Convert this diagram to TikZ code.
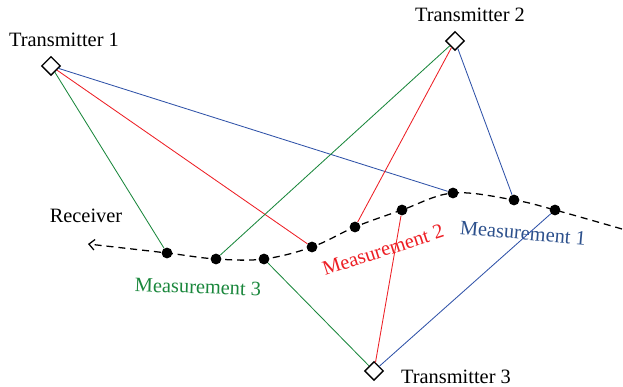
\documentclass[tikz,border=0pt]{standalone}
\usepackage{fontspec}
\setmainfont{Liberation Serif}
\usetikzlibrary{shapes.geometric,arrows.meta,backgrounds}

\definecolor{mblue}{RGB}{47,82,168}
\definecolor{mgreen}{RGB}{26,135,60}
\definecolor{mred}{RGB}{237,30,36}
\definecolor{lblue}{RGB}{44,80,140}

\begin{document}
\begin{tikzpicture}[font=\fontsize{14.5}{17}\selectfont]
	\useasboundingbox (0,0) rectangle (15.575,9.675);

	% Styles for transmitters, measurement points and rays
	\tikzstyle{tx}=[
	diamond,
	draw,
	fill=white,
	line width=0.9pt,
	inner sep=0pt,
	minimum size=0.47cm
	]
	\tikzstyle{pt}=[circle, fill=black, inner sep=0pt, minimum size=0.27cm]
	\tikzstyle{ray}=[line width=0.6pt]

	% --- Transmitters ---
	\node[tx] (T1) at (1.275, 8.025) {};
	\node[tx] (T2) at (11.375, 8.65) {};
	\node[tx] (T3) at (9.35, 0.4) {};
	\node (T1lbl) at (1.6, 8.675) {Transmitter 1};
	\node (T2lbl) at (11.75, 9.3) {Transmitter 2};
	\node (T3lbl) at (11.4, 0.25) {Transmitter 3};

	% --- Receiver track ---
	\node[pt] (m31) at (4.175, 3.35) {};
	\node[pt] (m32) at (5.4, 3.2) {};
	\node[pt] (m33) at (6.6, 3.2) {};
	\node[pt] (m21) at (7.8, 3.5) {};
	\node[pt] (m22) at (8.875, 4.0) {};
	\node[pt] (m23) at (10.05, 4.425) {};
	\node[pt] (m11) at (11.325, 4.85) {};
	\node[pt] (m12) at (12.85, 4.675) {};
	\node[pt] (m13) at (13.875, 4.425) {};
	\coordinate (rxend) at (15.55, 3.95);
	\coordinate (rxtip) at (2.2, 3.575);
	\node (rxlbl) at (2.15, 4.275) {Receiver};

	% --- Measurement labels ---
	\node[text=mgreen, rotate=-2] (M3lbl) at (4.95, 2.5) {Measurement 3};
	\node[text=mred, rotate=18] (M2lbl) at (9.575, 3.425) {Measurement 2};
	\node[text=lblue, rotate=-5] (M1lbl) at (13.075, 3.85) {Measurement 1};

	\begin{pgfonlayer}{background}
		\draw[dash pattern=on 5pt off 3.5pt, line width=0.9pt, -{Straight Barb[length=4pt,width=7.5pt]}]
			plot[smooth, tension=0.6] coordinates {(rxend) (m13) (m12) (m11) (m23) (m22) (m21) (m33) (m32) (m31) (rxtip)};
	\end{pgfonlayer}

	% Measurement 1
	\draw[ray, mblue] (T1) -- (m11);
	\draw[ray, mblue] (T2) -- (m12);
	\draw[ray, mblue] (T3) -- (m13);
	% Measurement 2
	\draw[ray, mred] (T1) -- (m21);
	\draw[ray, mred] (T2) -- (m22);
	\draw[ray, mred] (T3) -- (m23);
	% Measurement 3
	\draw[ray, mgreen] (T1) -- (m31);
	\draw[ray, mgreen] (T2) -- (m32);
	\draw[ray, mgreen] (T3) -- (m33);
\end{tikzpicture}
\end{document}
